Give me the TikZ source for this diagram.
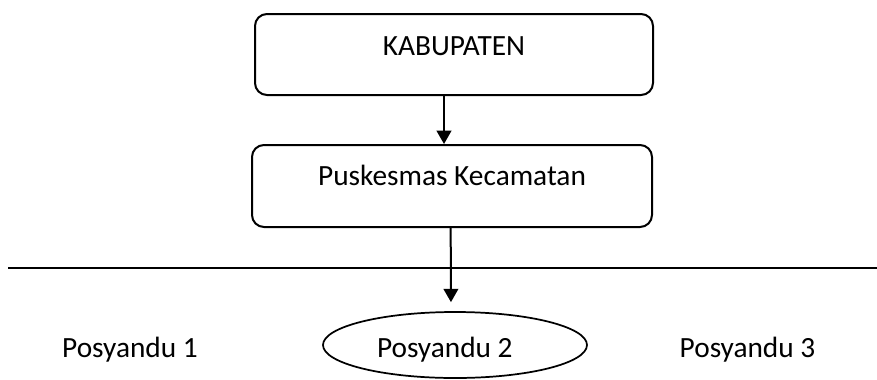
\documentclass[tikz,border=0pt]{standalone}
\usepackage{fontspec}
\setmainfont{Carlito}
\usetikzlibrary{shapes.geometric,arrows.meta}

\begin{document}
\begin{tikzpicture}[x=0.75pt,y=-0.75pt,
    every node/.style={font=\fontsize{22pt}{26pt}\selectfont},
    levelbox/.style={draw,line width=1.5pt,rounded corners=9pt,inner sep=0pt,minimum width=#1},
    downarrow/.style={line width=1.5pt,-{Triangle[length=10pt,width=11pt]}}]
  \useasboundingbox (0,0) rectangle (877,379);
  \node[levelbox=298.5pt,text height=30.75pt,text depth=30pt,anchor=base] (kab) at (454,55) {KABUPATEN};
  \node[levelbox=300pt,text height=30pt,text depth=31.5pt,anchor=base] (pusk) at (452,185) {Puskesmas Kecamatan};
  \coordinate (lineL) at (8,267.5);
  \coordinate (lineR) at (877,267.5);
  \draw[line width=1.5pt] (lineL) -- (lineR);
  \node[anchor=base] (pos1) at (130,357) {Posyandu 1};
  \node[draw,ellipse,line width=1.3pt,inner sep=0pt,minimum width=198pt,minimum height=49.5pt,
        text height=21pt,text depth=3pt] (pos2) at (455,345) {\makebox[117pt][l]{Posyandu 2}};
  \node[anchor=base] (pos3) at (747.5,357) {Posyandu 3};
  \draw[downarrow] ([xshift=-7.5pt]kab.south) -- ([xshift=-6pt]pusk.north);
  \draw[downarrow,shorten >=6.75pt] ([xshift=-1pt]pusk.south) -- ([xshift=-3pt]pos2.north);
\end{tikzpicture}
\end{document}
